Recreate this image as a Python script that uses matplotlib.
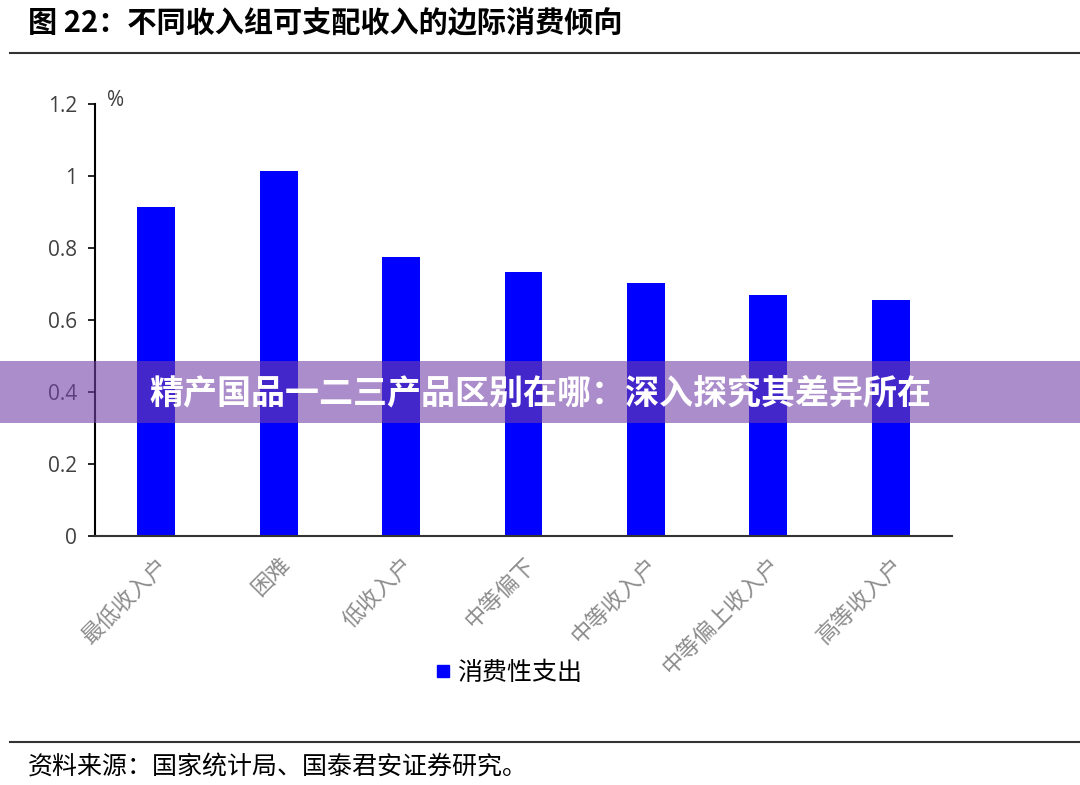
import matplotlib
matplotlib.use("Agg")
import matplotlib.pyplot as plt
from matplotlib.patches import Rectangle
from matplotlib.lines import Line2D

plt.rcParams["font.family"] = ["Noto Sans CJK SC", "DejaVu Sans"]

# 数据
categories = ["最低收入户", "困难", "低收入户", "中等偏下", "中等收入户", "中等偏上收入户", "高等收入户"]
consumption = [0.914, 1.014, 0.775, 0.733, 0.702, 0.669, 0.655]
series_name = "消费性支出"
yticks = [0, 0.2, 0.4, 0.6, 0.8, 1.0, 1.2]
ytick_labels = ["0", "0.2", "0.4", "0.6", "0.8", "1", "1.2"]

fig = plt.figure(figsize=(10.8, 7.85), dpi=100)
W, H = 1080, 785

ax = fig.add_axes([95 / W, 1 - 536 / H, (952 - 95) / W, (536 - 104) / H])
x = range(len(categories))
ax.bar(x, consumption, width=0.31, color="#0000FF", zorder=2)

ax.set_xlim(-0.5, len(categories) - 0.5)
ax.set_ylim(0, 1.2)
ax.set_yticks(yticks)
ax.set_yticklabels(ytick_labels, fontsize=15, color="#404040",
                   family=["Open Sans", "DejaVu Sans"])
ax.set_xticks(list(x))
ax.set_xticklabels(categories, rotation=45, ha="right", rotation_mode="anchor",
                   fontsize=16, color="#8c8c8c")
ax.tick_params(axis="x", length=0, pad=12)
ax.tick_params(axis="y", length=5, width=1.2, direction="out", pad=8)
for side in ("top", "right"):
    ax.spines[side].set_visible(False)
ax.spines["left"].set_linewidth(1.5)
ax.spines["bottom"].set_linewidth(1.5)
ax.spines["left"].set_color("black")
ax.spines["bottom"].set_color("#333333")

fig.text(107 / W, 1 - 101 / H, "%", fontsize=15, color="#404040",
         family=["Open Sans", "DejaVu Sans"], va="center")

# 图例
handle = Line2D([], [], marker="s", color="#0000FF", linestyle="none", markersize=9)
fig.legend([handle], [series_name], loc="center", bbox_to_anchor=(508 / W, 1 - 673 / H),
           frameon=False, fontsize=18, handletextpad=0.2, handlelength=0.7)

# 标题与分隔线
fig.text(28 / W, 1 - 22 / H, "图 22：不同收入组可支配收入的边际消费倾向",
         fontsize=21, fontweight="bold", va="center", ha="left")
fig.add_artist(Line2D([10 / W, 1.0], [1 - 53 / H, 1 - 53 / H], color="#333333", lw=1.5))
fig.add_artist(Line2D([10 / W, 1.0], [1 - 742 / H, 1 - 742 / H], color="#333333", lw=1.5))
fig.text(28 / W, 1 - 768 / H, "资料来源：国家统计局、国泰君安证券研究。",
         fontsize=18, va="center", ha="left")

# 紫色横幅
fig.add_artist(Rectangle((0, 1 - 423 / H), 1, 62 / H, transform=fig.transFigure,
                         facecolor="#7242a8", alpha=0.6, edgecolor="none", zorder=10))
fig.text(540 / W, 1 - 393 / H, "精产国品一二三产品区别在哪：深入探究其差异所在",
         fontsize=24.5, fontweight="bold", color="white", ha="center", va="center", zorder=11)

fig.savefig("out.png", dpi=100)
